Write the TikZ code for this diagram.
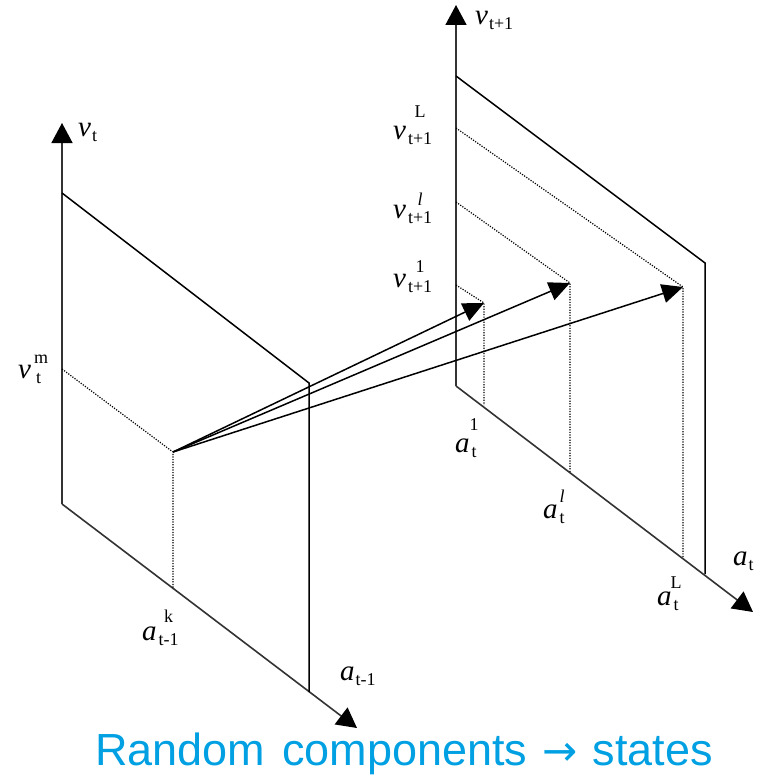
\documentclass[tikz,border=0pt]{standalone}
\usepackage{fontspec}
\setmainfont{Liberation Serif}
\newfontfamily\capfont{Liberation Sans}
\newfontfamily\arrfont{DejaVu Sans}
\usetikzlibrary{arrows.meta}
\definecolor{capblue}{RGB}{0,160,226}
\newcommand{\sfs}{\fontsize{18}{18}\selectfont}
% #1 raise of sup, #2 base, #3 sup, #4 sub
\newcommand{\lbl}[4]{\textit{#2\/}\kern2pt\setbox0\hbox{\sfs #4}\rlap{\raisebox{#1}{\makebox[\wd0][c]{\sfs #3}}}\raisebox{-5pt}{\box0}}
\newcommand{\lsub}[2]{\textit{#1\/}\kern1pt\raisebox{-5pt}{\sfs #2}}
\begin{document}
\begin{tikzpicture}[x=1pt,y=-1pt,
  ln/.style={line width=1.5pt,black},
  ax/.style={line width=1.6pt,black!80,-{Triangle[length=20pt,width=21pt,fill=black,color=black]}},
  arr/.style={line width=1.5pt,black,-{Triangle[length=21pt,width=19pt]}},
  dot/.style={line width=1.2pt,dash pattern=on 1.2pt off 1.4pt,black},
  lab/.style={inner sep=0pt,anchor=base west,font=\fontsize{29}{29}\selectfont}]
\useasboundingbox (0,0) rectangle (763,776);
% left frame
\coordinate (LC) at (62,504);
\coordinate (LV) at (62,123);
\coordinate (LA) at (357,728);
\coordinate (LT1) at (62,193);
\coordinate (LT2) at (309,383);
\coordinate (LB2) at (309,692);
\coordinate (LM) at (62,369);
\coordinate (S) at (173,452);
\coordinate (SK) at (173,589);
\draw[ax] (LC) -- (LV);
\draw[ax] (LC) -- (LA);
\draw[ln] (LT1) -- (LT2) -- (LB2);
\draw[dot] (LM) -- (S) -- (SK);
% right frame
\coordinate (RC) at (456,386);
\coordinate (RV) at (456,5);
\coordinate (RA) at (753,612);
\coordinate (RT1) at (456,76);
\coordinate (RT2) at (705,263);
\coordinate (RB2) at (705,574);
\coordinate (R1a) at (456,285);
\coordinate (R1) at (484,303);
\coordinate (R1b) at (484,405);
\coordinate (Rla) at (456,202);
\coordinate (Rl) at (570,283);
\coordinate (Rlb) at (570,472);
\coordinate (RLa) at (456,128);
\coordinate (RL) at (683,287);
\coordinate (RLb) at (683,557);
\draw[ax] (RC) -- (RV);
\draw[ax] (RC) -- (RA);
\draw[ln] (RT1) -- (RT2) -- (RB2);
\draw[dot] (R1a) -- (R1) -- (R1b);
\draw[dot] (Rla) -- (Rl) -- (Rlb);
\draw[dot] (RLa) -- (RL) -- (RLb);
% transition arrows
\draw[arr] (S) -- (R1);
\draw[arr] (S) -- (Rl);
\draw[arr] (S) -- (RL);
% labels
\node[lab] (lvt) at (78,136) {\lsub{v}{t}};
\node[lab] (lvtm) at (18,378) {\textit{v\/}\kern3pt\rlap{\raisebox{15pt}{\sfs m}}\kern2pt\raisebox{-5pt}{\sfs t}};
\node[lab] (lak) at (142,640) {\lbl{18pt}{a}{k}{t-1}};
\node[lab] (la) at (340,680) {\lsub{a}{t-1}};
\node[lab] (rv) at (475,25) {\lsub{v}{t+1}};
\node[lab] (rvL) at (393,139) {\lbl{21pt}{v}{L}{t+1}};
\node[lab] (rvl) at (393,218) {\lbl{13pt}{v}{\textit{l}}{t+1}};
\node[lab] (rv1) at (393,287) {\lbl{15pt}{v}{1}{t+1}};
\node[lab] (ra1) at (455,452) {\lbl{22pt}{a}{1}{t}};
\node[lab] (ral) at (543,518) {\lbl{16pt}{a}{\textit{l}}{t}};
\node[lab] (raL) at (657,605) {\lbl{17pt}{a}{L}{t}};
\node[lab] (ra) at (733,565) {\lsub{a}{t}};
% caption
\node[inner sep=0pt,anchor=base west,text=capblue,font=\capfont\fontsize{45}{45}\selectfont] (cap) at (95,765) {Random\hspace{17pt}components\hspace{15pt}{\arrfont\fontsize{42}{42}\selectfont →}\hspace{15pt}states};
\end{tikzpicture}
\end{document}
